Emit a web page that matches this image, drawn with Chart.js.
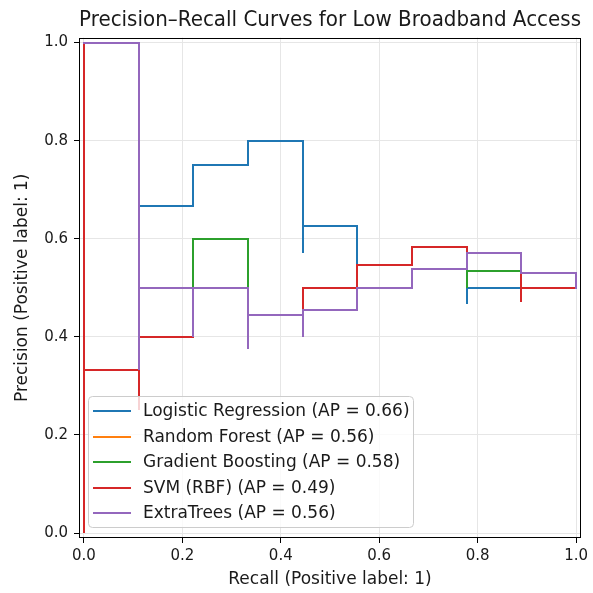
<!DOCTYPE html>
<html>
<head>
<meta charset="utf-8">
<script src="https://cdn.jsdelivr.net/npm/chart.js@4.4.0/dist/chart.umd.min.js"></script>
<style>
  html, body { margin: 0; padding: 0; background: #fff; }
  #wrap { width: 593px; height: 593px; }
</style>
</head>
<body>
<div id="wrap"><canvas id="pr-chart" width="593" height="593"></canvas></div>
<script>
// Models, in legend order
const modelNames = ['Logistic Regression', 'Random Forest', 'Gradient Boosting', 'SVM (RBF)', 'ExtraTrees'];
const apScores = [0.66, 0.56, 0.58, 0.49, 0.56];
const modelColors = ['#1f77b4', '#ff7f0e', '#2ca02c', '#d62728', '#9467bd'];

// PR curve points (recall decreasing, as precision_recall_curve returns them)
const lrRecall = [1, 0.8889, 0.7778, 0.7778, 0.6667, 0.5556, 0.4444, 0.4444, 0.3333, 0.2222, 0.1111, 0];
const lrPrecision = [0.5, 0.5, 0.4667, 0.5833, 0.5455, 0.625, 0.5714, 0.8, 0.75, 0.6667, 1.0, 1.0];

const rfRecall = [1, 1, 0.8889, 0.7778, 0.6667, 0.5556, 0.4444, 0.4444, 0.3333, 0.3333, 0.2222, 0.2222, 0.1111, 0.1111, 0];
const rfPrecision = [0.5, 0.5294, 0.5714, 0.5385, 0.5, 0.4545, 0.4, 0.4444, 0.375, 0.5, 0.4, 0.5, 0.3333, 1.0, 1.0];

const gbRecall = [1, 0.8889, 0.7778, 0.7778, 0.6667, 0.5556, 0.4444, 0.3333, 0.2222, 0.1111, 0];
const gbPrecision = [0.5, 0.5333, 0.5, 0.5833, 0.5455, 0.5, 0.4444, 0.6, 0.5, 1.0, 1.0];

const svmRecall = [1, 0.8889, 0.8889, 0.7778, 0.6667, 0.5556, 0.4444, 0.3333, 0.2222, 0.1111, 0.1111, 0, 0];
const svmPrecision = [0.5, 0.4706, 0.5714, 0.5833, 0.5455, 0.5, 0.4444, 0.5, 0.4, 0.25, 0.3333, 0, 1.0];

const etRecall = [1, 1, 0.8889, 0.7778, 0.6667, 0.5556, 0.4444, 0.4444, 0.3333, 0.3333, 0.2222, 0.2222, 0.1111, 0.1111, 0];
const etPrecision = [0.5, 0.5294, 0.5714, 0.5385, 0.5, 0.4545, 0.4, 0.4444, 0.375, 0.5, 0.4, 0.5, 0.3333, 1.0, 1.0];

const axisTicks = [0, 0.2, 0.4, 0.6, 0.8, 1.0];

const FONT = 'DejaVu Sans';
const TEXT_COLOR = '#1a1a1a';

const curves = [
  [lrRecall, lrPrecision],
  [rfRecall, rfPrecision],
  [gbRecall, gbPrecision],
  [svmRecall, svmPrecision],
  [etRecall, etPrecision]
];

const datasets = curves.map(([rec, prec], i) => ({
  label: `${modelNames[i]} (AP = ${apScores[i].toFixed(2)})`,
  data: rec.map((r, j) => ({ x: r, y: prec[j] })),
  borderColor: modelColors[i],
  backgroundColor: modelColors[i],
  borderWidth: 2,
  stepped: 'before',           // same as matplotlib steps-post
  pointRadius: 0,
  fill: false,
  borderCapStyle: 'square',
  borderJoinStyle: 'miter',
  order: curves.length - i     // later models drawn on top
}));

// snap the points to whole pixels so overlapping curves hide each other cleanly
const pixelSnap = {
  id: 'pixelSnap',
  beforeDatasetsDraw(chart) {
    chart.getSortedVisibleDatasetMetas().forEach(meta => {
      meta.data.forEach(pt => {
        pt.x = Math.round(pt.x);
        pt.y = Math.round(pt.y);
      });
      if (meta.dataset) meta.dataset._path = undefined;
    });
  }
};

// black box around the axes + matplotlib style legend in the lower left
const frameAndLegend = {
  id: 'frameAndLegend',
  afterDatasetsDraw(chart) {
    const { ctx, chartArea: a } = chart;
    ctx.save();
    ctx.strokeStyle = '#000';
    ctx.lineWidth = 1;
    ctx.strokeRect(Math.round(a.left) + 0.5, Math.round(a.top) + 0.5,
      Math.round(a.right - a.left) - 1, Math.round(a.bottom - a.top) - 1);

    const bx = a.left + 9, bw = 325, bh = 131;
    const by = a.bottom - 11 - bh;
    ctx.beginPath();
    ctx.roundRect(bx + 0.5, by + 0.5, bw, bh, 4);
    ctx.fillStyle = 'rgba(255,255,255,0.8)';
    ctx.fill();
    ctx.strokeStyle = '#cccccc';
    ctx.stroke();

    ctx.font = `17px "${FONT}"`;
    ctx.textBaseline = 'middle';
    ctx.fillStyle = TEXT_COLOR;
    chart.data.datasets.forEach((ds, i) => {
      const y = Math.round(by + 15 + i * 25.5);
      ctx.beginPath();
      ctx.moveTo(bx + 5, y);
      ctx.lineTo(bx + 43, y);
      ctx.strokeStyle = ds.borderColor;
      ctx.lineWidth = 2;
      ctx.stroke();
      ctx.fillText(ds.label, bx + 55, y + 1);
    });
    ctx.restore();
  }
};

function axisOptions(titleText, isX) {
  return {
    type: 'linear',
    min: -0.01,
    max: 1.01,
    afterBuildTicks: s => { s.ticks = axisTicks.map(v => ({ value: v })); },
    afterFit: s => {
      if (isX) s.height = 55; else s.width = 79;
    },
    ticks: {
      callback: v => v.toFixed(1),
      font: { family: FONT, size: 15 },
      color: TEXT_COLOR,
      padding: isX ? 4 : 6,
      maxRotation: 0,
      autoSkip: false
    },
    grid: {
      color: '#e6e6e6',
      lineWidth: 1,
      tickColor: '#000',
      tickLength: 5
    },
    border: { display: false },
    title: {
      display: true,
      text: titleText,
      font: { family: FONT, size: 17 },
      color: TEXT_COLOR,
      padding: isX ? { top: 0, bottom: 3 } : { top: 12, bottom: 0 }
    }
  };
}

new Chart(document.getElementById('pr-chart'), {
  type: 'line',
  data: { datasets },
  options: {
    responsive: false,
    animation: false,
    layout: { padding: { left: 0, right: 12, top: 0, bottom: 0 } },
    plugins: {
      legend: { display: false },
      tooltip: { enabled: false },
      title: {
        display: true,
        fullSize: false,       // centre the title over the plot area
        text: 'Precision\u2013Recall Curves for Low Broadband Access',
        font: { family: FONT, size: 20.5, weight: 'normal' },
        color: TEXT_COLOR,
        padding: { top: 8, bottom: 5 }
      }
    },
    scales: {
      x: axisOptions('Recall (Positive label: 1)', true),
      y: axisOptions('Precision (Positive label: 1)', false)
    }
  },
  plugins: [pixelSnap, frameAndLegend]
});
</script>
</body>
</html>
